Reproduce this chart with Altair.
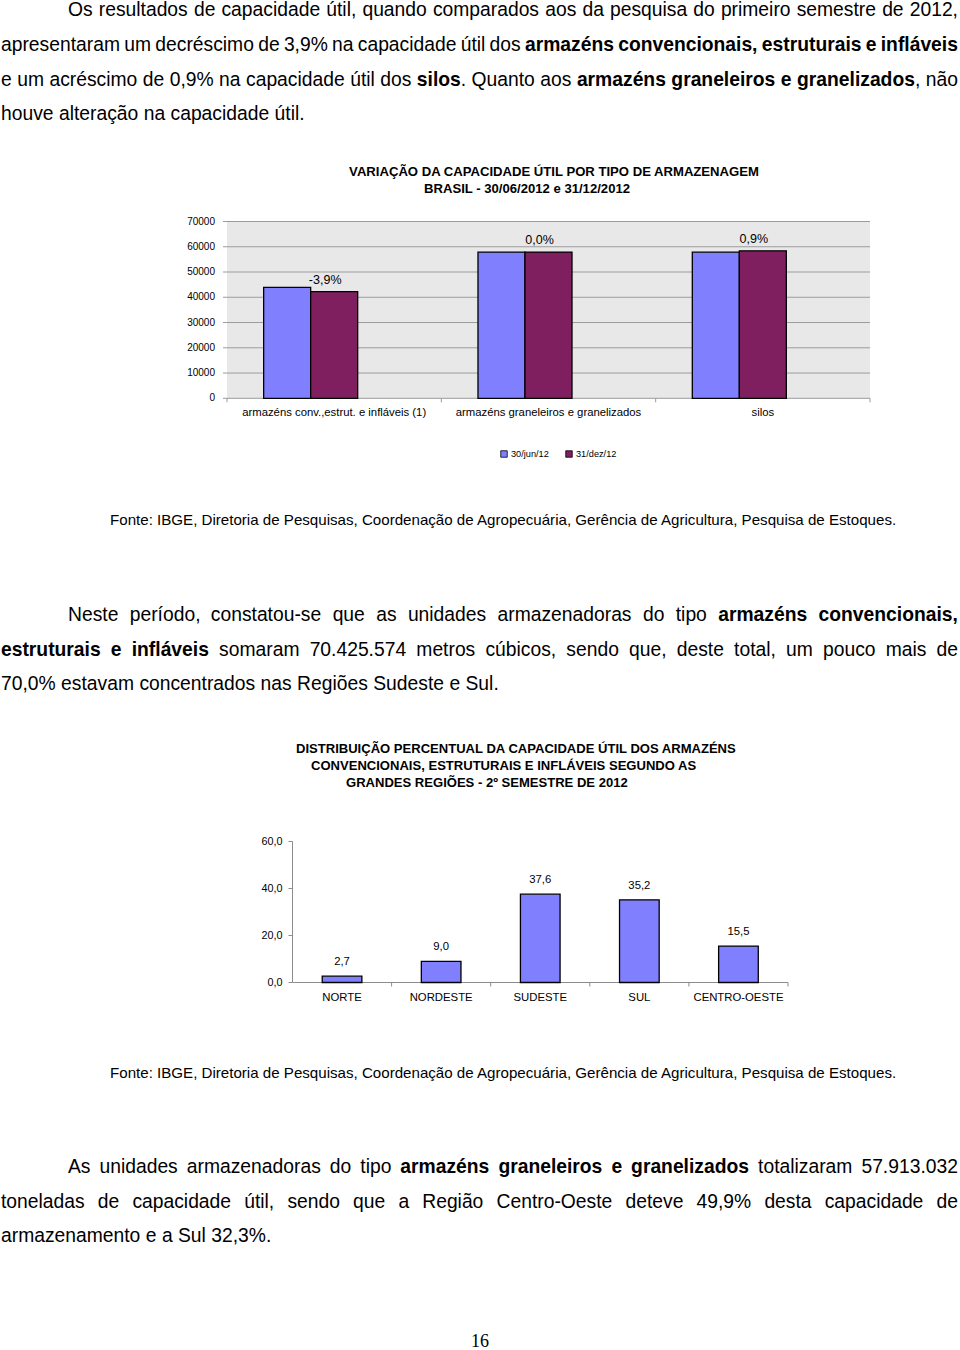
import altair as alt
import pandas as pd
import unicodedata

# ------------------------------------------------------------------ data
cats1 = ["armazéns conv.,estrut. e infláveis (1)",
         "armazéns graneleiros e granelizados",
         "silos"]
series1 = ["30/jun/12", "31/dez/12"]
cap_jun = [43900, 57913, 57850]
cap_dez = [42200, 57913, 58370]
var_labels = ["-3,9%", "0,0%", "0,9%"]
y1_ticks = [0, 10000, 20000, 30000, 40000, 50000, 60000, 70000]

regions = ["NORTE", "NORDESTE", "SUDESTE", "SUL", "CENTRO-OESTE"]
pct = [2.7, 9.0, 37.6, 35.2, 15.5]
y2_ticks = [0, 20, 40, 60]

title1 = ["VARIAÇÃO DA CAPACIDADE ÚTIL POR TIPO DE ARMAZENAGEM",
          "BRASIL - 30/06/2012 e 31/12/2012"]
title2 = ["DISTRIBUIÇÃO PERCENTUAL DA CAPACIDADE ÚTIL DOS ARMAZÉNS",
          "CONVENCIONAIS, ESTRUTURAIS E INFLÁVEIS SEGUNDO AS",
          "GRANDES REGIÕES - 2º SEMESTRE DE 2012"]
fonte = ("Fonte: IBGE, Diretoria de Pesquisas, Coordenação de Agropecuária, "
         "Gerência de Agricultura, Pesquisa de Estoques.")
page_number = "16"

# paragraph lines: (y, left, justified, [(text, bold), ...])
par1 = [
    (10, 68, True, [("Os resultados de capacidade útil, quando comparados aos da pesquisa do primeiro semestre de 2012,", False)]),
    (45, 1, True, [("apresentaram um decréscimo de 3,9% na capacidade útil dos ", False),
                   ("armazéns convencionais, estruturais e infláveis", True)]),
    (80, 1, True, [("e um acréscimo de 0,9% na capacidade útil dos ", False), ("silos", True),
                   (". Quanto aos ", False), ("armazéns graneleiros e granelizados", True), (", não", False)]),
    (114, 1, False, [("houve alteração na capacidade útil.", False)]),
]
par2 = [
    (615, 68, True, [("Neste período, constatou-se que as unidades armazenadoras do tipo ", False),
                     ("armazéns convencionais,", True)]),
    (650, 1, True, [("estruturais e infláveis", True),
                    (" somaram 70.425.574 metros cúbicos, sendo que, deste total, um pouco mais de", False)]),
    (684, 1, False, [("70,0% estavam concentrados nas Regiões Sudeste e Sul.", False)]),
]
par3 = [
    (1167, 68, True, [("As unidades armazenadoras do tipo ", False),
                      ("armazéns graneleiros e granelizados", True),
                      (" totalizaram 57.913.032", False)]),
    (1202, 1, True, [("toneladas de capacidade útil, sendo que a Região Centro-Oeste deteve 49,9% desta capacidade de", False)]),
    (1236, 1, False, [("armazenamento e a Sul 32,3%.", False)]),
]

# ------------------------------------------------------------------ styles / layout
FONT = "Liberation Sans"
BLUE = "#8080FF"
PURPLE = "#7F1F5F"
RIGHT = 958

P1 = dict(x0=227, x1=870, ybot=398.3, ytop=221.5)
P2 = dict(x0=292.5, x1=788, ybot=982.5, ytop=841.5)

# Arial / Liberation Sans advance widths (1/1000 em)
REG = {}
for chars, w in [("'", 191), ("ijl", 222), (" !,./:;If[]\\t", 278), ("-()r`", 333),
                 ("cksvxyzJ?", 500), ("abdeghnopqu0123456789L_$#", 556), ("FTZ", 611),
                 ("ABEKPSVXY&", 667), ("CDHNRUw", 722), ("GOQ", 778), ("Mm", 833),
                 ("%", 889), ("W", 944), ("º", 365)]:
    for c in chars:
        REG[c] = w
BLD = {}
for chars, w in [("'", 238), (" ijl,./:;I", 278), ("ft!-()[]", 333), ("r", 389), ("z", 500),
                 ("acekxsvyJ0123456789$?", 556), ("bdghnopquFLTZ", 611), ("EPVXY", 667),
                 ("ABCDHKNRSU&", 722), ("GOQw", 778), ("M", 833), ("m%", 889), ("W", 944),
                 ("º", 365)]:
    for c in chars:
        BLD[c] = w


def em(text, bold=False):
    tab = BLD if bold else REG
    tot = 0
    for c in text:
        base = unicodedata.normalize("NFD", c)[0]
        tot += tab.get(c, tab.get(base, 556))
    return tot / 1000.0


def words_of(segments):
    words, cur = [], []
    for txt, bold in segments:
        parts = txt.split(" ")
        for i, p in enumerate(parts):
            if i > 0 and cur:
                words.append(cur)
                cur = []
            if p:
                cur.append((p, bold))
    if cur:
        words.append(cur)
    return words


all_lines = par1 + par2 + par3
# body font size: natural width of unjustified lines, capped so justified lines fit
fs_body = 19.3
for y, left, just, segs in all_lines:
    if just:
        ws = words_of(segs)
        natural = sum(em(t, b) for w in ws for t, b in w) + 0.2 * (len(ws) - 1)
        fs_body = min(fs_body, (RIGHT - left) / natural)

rows = []
for y, left, just, segs in all_lines:
    ws = words_of(segs)
    wlen = [sum(em(t, b) for t, b in w) * fs_body for w in ws]
    if just and len(ws) > 1:
        gap = (RIGHT - left - sum(wlen)) / (len(ws) - 1)
    else:
        gap = em(" ") * fs_body
    x = left
    for w, wl in zip(ws, wlen):
        for t, b in w:
            rows.append(dict(x=x, y=y, t=t, bold=b))
            x += em(t, b) * fs_body
        x += gap
body = pd.DataFrame(rows)

fs_t1 = 413 / em(title1[0], True)
fs_t2 = 445 / em(title2[0], True)
fs_fonte = 788 / em(fonte)
fs_cat1 = 185 / em(cats1[0])
fs_cat2 = 63 / em("NORDESTE")

# ------------------------------------------------------------------ layers
one = pd.DataFrame({"a": [0]})
layers = []

# body text
layers.append(alt.Chart(body[~body.bold]).mark_text(
    align="left", baseline="middle", font=FONT, fontSize=fs_body, color="black").encode(
    x=alt.X("x:Q", scale=None), y=alt.Y("y:Q", scale=None), text="t:N"))
layers.append(alt.Chart(body[body.bold]).mark_text(
    align="left", baseline="middle", font=FONT, fontSize=fs_body, fontWeight="bold", color="black").encode(
    x=alt.X("x:Q", scale=None), y=alt.Y("y:Q", scale=None), text="t:N"))

# fonte lines + page number
src = pd.DataFrame({"x": [110, 110], "y": [520, 1073], "t": [fonte, fonte]})
layers.append(alt.Chart(src).mark_text(align="left", baseline="middle", font=FONT,
                                       fontSize=fs_fonte, color="black").encode(
    x=alt.X("x:Q", scale=None), y=alt.Y("y:Q", scale=None), text="t:N"))
layers.append(alt.Chart(pd.DataFrame({"t": [page_number]})).mark_text(
    align="center", baseline="middle", font="Liberation Serif", fontSize=18, color="black").encode(
    x=alt.value(480), y=alt.value(1342), text="t:N"))

# ---------------- chart 1
x1s = alt.Scale(domain=cats1, range=[P1["x0"], P1["x1"]], paddingInner=0.342, paddingOuter=0.171)
y1s = alt.Scale(domain=[0, 70000], range=[P1["ybot"], P1["ytop"]], nice=False, zero=True)
xoff1 = alt.Scale(domain=series1 + ["var"], paddingInner=0, paddingOuter=0)
col1 = alt.Scale(domain=series1, range=[BLUE, PURPLE])

t1 = pd.DataFrame({"t": title1, "x": [554, 527], "y": [172, 189]})
layers.append(alt.Chart(t1).mark_text(align="center", baseline="middle", font=FONT,
                                      fontSize=fs_t1, fontWeight="bold", color="black").encode(
    x=alt.X("x:Q", scale=None), y=alt.Y("y:Q", scale=None), text="t:N"))

layers.append(alt.Chart(one).mark_rect(color="#e8e8e8").encode(
    x=alt.value(P1["x0"]), x2=alt.value(P1["x1"]), y=alt.value(P1["ytop"]), y2=alt.value(P1["ybot"])))

g1 = pd.DataFrame({"v": y1_ticks, "lbl": [str(v) for v in y1_ticks]})
layers.append(alt.Chart(g1).mark_rule(color="#9c9c9c", strokeWidth=1).encode(
    y=alt.Y("v:Q", scale=y1s, axis=None), x=alt.value(P1["x0"] - 4), x2=alt.value(P1["x1"])))
layers.append(alt.Chart(g1).mark_text(align="right", baseline="middle", font=FONT,
                                      fontSize=10, color="black").encode(
    y=alt.Y("v:Q", scale=y1s, axis=None), x=alt.value(P1["x0"] - 12), text="lbl:N"))

step1 = (P1["x1"] - P1["x0"]) / len(cats1)
b1 = pd.DataFrame({"px": [P1["x0"] + i * step1 for i in range(len(cats1) + 1)]})
layers.append(alt.Chart(b1).mark_rule(color="#9c9c9c").encode(
    x=alt.X("px:Q", scale=None), y=alt.value(P1["ybot"]), y2=alt.value(P1["ybot"] + 4)))

bars1 = pd.DataFrame({
    "cat": cats1 * 2,
    "series": [series1[0]] * 3 + [series1[1]] * 3,
    "value": cap_jun + cap_dez,
})
layers.append(alt.Chart(bars1).mark_bar(stroke="black", strokeWidth=1.3).encode(
    x=alt.X("cat:N", scale=x1s, axis=None, sort=cats1),
    xOffset=alt.XOffset("series:N", scale=xoff1),
    y=alt.Y("value:Q", scale=y1s, axis=None),
    color=alt.Color("series:N", scale=col1, legend=None)))

lab1 = pd.DataFrame({"cat": cats1, "series": [series1[1]] * 3, "value": cap_dez, "lbl": var_labels})
layers.append(alt.Chart(lab1).mark_text(baseline="middle", dy=-12, dx=-9, font=FONT,
                                        fontSize=12.5, color="black").encode(
    x=alt.X("cat:N", scale=x1s, axis=None, sort=cats1),
    xOffset=alt.XOffset("series:N", scale=xoff1),
    y=alt.Y("value:Q", scale=y1s, axis=None),
    text="lbl:N"))

c1 = pd.DataFrame({"cat": cats1})
layers.append(alt.Chart(c1).mark_text(baseline="middle", font=FONT, fontSize=fs_cat1, color="black").encode(
    x=alt.X("cat:N", scale=x1s, axis=None, sort=cats1), y=alt.value(413), text="cat:N"))

leg = pd.DataFrame({"series": series1, "x": [504, 569]})
layers.append(alt.Chart(leg).mark_square(size=42, stroke="black", strokeWidth=0.8, opacity=1).encode(
    x=alt.X("x:Q", scale=None), y=alt.value(454),
    color=alt.Color("series:N", scale=col1, legend=None)))
layers.append(alt.Chart(leg).mark_text(align="left", baseline="middle", dx=7, font=FONT,
                                       fontSize=9.2, color="black").encode(
    x=alt.X("x:Q", scale=None), y=alt.value(454), text="series:N"))

# ---------------- chart 2
x2s = alt.Scale(domain=regions, range=[P2["x0"], P2["x1"]], paddingInner=0.6, paddingOuter=0.3)
y2s = alt.Scale(domain=[0, 60], range=[P2["ybot"], P2["ytop"]], nice=False, zero=True)

t2 = pd.DataFrame({"t": title2, "x": [296, 311, 346], "y": [749, 766, 783]})
layers.append(alt.Chart(t2).mark_text(align="left", baseline="middle", font=FONT,
                                      fontSize=fs_t2, fontWeight="bold", color="black").encode(
    x=alt.X("x:Q", scale=None), y=alt.Y("y:Q", scale=None), text="t:N"))

layers.append(alt.Chart(one).mark_rule(color="#8c8c8c").encode(
    x=alt.value(P2["x0"]), y=alt.value(P2["ytop"]), y2=alt.value(P2["ybot"])))
layers.append(alt.Chart(one).mark_rule(color="#8c8c8c").encode(
    x=alt.value(P2["x0"]), x2=alt.value(P2["x1"]), y=alt.value(P2["ybot"])))

g2 = pd.DataFrame({"v": y2_ticks, "lbl": [f"{v:.1f}".replace(".", ",") for v in y2_ticks]})
layers.append(alt.Chart(g2).mark_rule(color="#8c8c8c").encode(
    y=alt.Y("v:Q", scale=y2s, axis=None), x=alt.value(P2["x0"] - 4), x2=alt.value(P2["x0"])))
layers.append(alt.Chart(g2).mark_text(align="right", baseline="middle", font=FONT,
                                      fontSize=10.8, color="black").encode(
    y=alt.Y("v:Q", scale=y2s, axis=None), x=alt.value(P2["x0"] - 10), text="lbl:N"))

step2 = (P2["x1"] - P2["x0"]) / len(regions)
b2 = pd.DataFrame({"px": [P2["x0"] + i * step2 for i in range(1, len(regions) + 1)]})
layers.append(alt.Chart(b2).mark_rule(color="#8c8c8c").encode(
    x=alt.X("px:Q", scale=None), y=alt.value(P2["ybot"]), y2=alt.value(P2["ybot"] + 4)))

bars2 = pd.DataFrame({"reg": regions, "v": pct, "lbl": [f"{v:.1f}".replace(".", ",") for v in pct]})
layers.append(alt.Chart(bars2).mark_bar(color=BLUE, stroke="black", strokeWidth=1.3).encode(
    x=alt.X("reg:N", scale=x2s, axis=None, sort=regions),
    y=alt.Y("v:Q", scale=y2s, axis=None)))
layers.append(alt.Chart(bars2).mark_text(baseline="middle", dy=-14, font=FONT,
                                         fontSize=11.3, color="black").encode(
    x=alt.X("reg:N", scale=x2s, axis=None, sort=regions),
    y=alt.Y("v:Q", scale=y2s, axis=None), text="lbl:N"))
layers.append(alt.Chart(bars2).mark_text(baseline="middle", font=FONT,
                                         fontSize=fs_cat2, color="black").encode(
    x=alt.X("reg:N", scale=x2s, axis=None, sort=regions),
    y=alt.value(998), text="reg:N"))

chart = alt.layer(*layers).resolve_scale(
    x="independent", y="independent", color="shared"
).properties(
    width=960, height=1350, padding=0, background="white",
    autosize=alt.AutoSizeParams(type="none"),
).configure_view(stroke=None)

chart.save("out.html", embed_options={"renderer": "svg", "actions": False})
